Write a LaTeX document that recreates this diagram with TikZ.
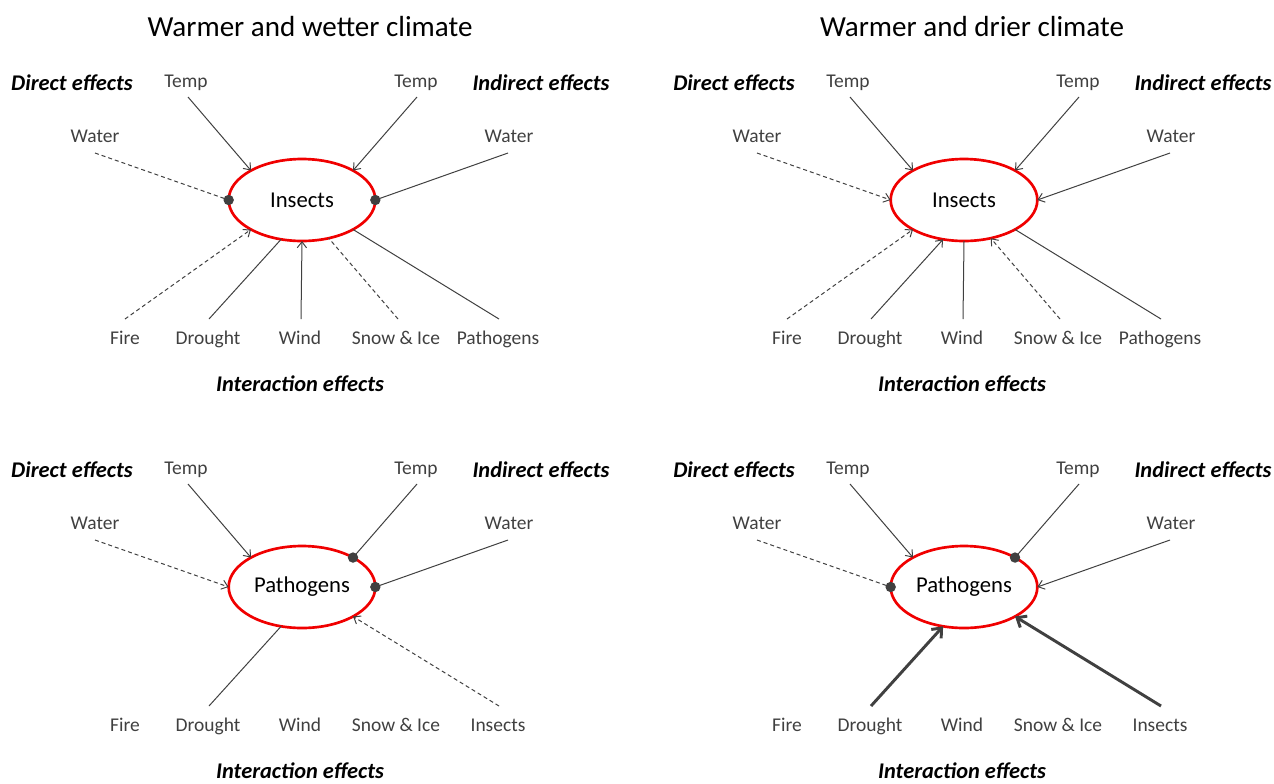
\documentclass[tikz,border=0pt]{standalone}
\usepackage{fontspec}
\setmainfont{Carlito}
\usetikzlibrary{arrows.meta,shapes.geometric,calc}
\definecolor{ln}{HTML}{404040}
\definecolor{lb}{HTML}{404040}
\definecolor{ered}{HTML}{F00000}
\tikzset{
 lbl/.style={text=lb, font=\fontsize{14.6}{16}\selectfont, inner sep=0, text height=11.5pt, text depth=1.5pt},
 head/.style={font=\fontsize{16.8}{19}\selectfont\bfseries\itshape, inner sep=0},
 ttl/.style={font=\fontsize{21.8}{25}\selectfont, inner sep=0},
 hub/.style={ellipse, draw=ered, line width=2pt, minimum width=110pt, minimum height=61.5pt, inner sep=0, outer sep=0, font=\fontsize{17}{20}\selectfont},
 con/.style={draw=ln, line width=0.75pt},
 dsh/.style={con, dash pattern=on 3pt off 2.25pt},
 arr/.style={-{Straight Barb[length=4.5pt,width=7pt]}},
 thk/.style={draw=ln, line width=2.2pt, -{Straight Barb[length=6pt,width=10pt]}},
 dotc/.style={circle, fill=ln, inner sep=0, minimum size=7.8pt},
}
\newcommand\panelbase[2]{%
  \node[head] (de) at (72,83) {Direct effects};
  \node[lbl] (tl) at (186,81) {Temp};
  \node[lbl] (tr) at (416,81) {Temp};
  \node[head] (ie) at (541,83) {Indirect effects};
  \node[lbl] (wl) at (95,136) {Water};
  \node[lbl] (wr) at (509,136) {Water};
  \node[hub] (e) at (302,200) {#1};
  \node[lbl] (fi) at (125,338) {Fire};
  \node[lbl] (dr) at (208,338) {Drought};
  \node[lbl] (wi) at (300,338) {Wind};
  \node[lbl] (sn) at (396,338) {Snow \& Ice};
  \node[lbl] (p5) at (498,338) {#2};
  \node[head] (ia) at (300,384) {Interaction effects};
  \coordinate (tl0) at ($(tl)+(2,16)$);
  \coordinate (tr0) at ($(tr)+(1,16)$);
  \coordinate (wl0) at ($(wl)+(0,17)$);
  \coordinate (wr0) at ($(wr)+(-1,17)$);
  \coordinate (fi0) at ($(fi)+(0,-19)$);
  \coordinate (dr0) at ($(dr)+(1,-19)$);
  \coordinate (wi0) at ($(wi)+(1,-19)$);
  \coordinate (sn0) at ($(sn)+(2,-19)$);
  \coordinate (p50) at ($(p5)+(1,-19)$);
}
\begin{document}
\begin{tikzpicture}[x=0.75pt,y=-0.75pt]
\useasboundingbox (0,0) rectangle (1274,783);
\node[ttl] (t1) at (310,27) {Warmer and wetter climate};
\node[ttl] (t2) at (972,27) {Warmer and drier climate};

% top-left
\begin{scope}[name prefix=a-]
  \panelbase{Insects}{Pathogens}
  \draw[con,arr] (tl0) -- (e.150);
  \draw[con,arr] (tr0) -- (e.30);
  \draw[dsh] (wl0) -- (e.180);
  \node[dotc] (d1) at (e.180) {};
  \draw[con] (wr0) -- (e.0);
  \node[dotc] (d2) at (e.0) {};
  \draw[dsh,arr] (fi0) -- (e.210);
  \draw[con] (dr0) -- (e.242);
  \draw[con,arr] (wi0) -- (e.270);
  \draw[dsh] (sn0) -- (e.305);
  \draw[con] (p50) -- (e.330);
\end{scope}

% top-right
\begin{scope}[shift={(662,0)},name prefix=b-]
  \panelbase{Insects}{Pathogens}
  \draw[con,arr] (tl0) -- (e.150);
  \draw[con,arr] (tr0) -- (e.30);
  \draw[dsh,arr] (wl0) -- (e.180);
  \draw[con,arr] (wr0) -- (e.0);
  \draw[dsh,arr] (fi0) -- (e.210);
  \draw[con,arr] (dr0) -- (e.242);
  \draw[con] (wi0) -- (e.270);
  \draw[dsh,arr] (sn0) -- (e.305);
  \draw[con] (p50) -- (e.330);
\end{scope}

% bottom-left
\begin{scope}[shift={(0,387)},name prefix=c-]
  \panelbase{Pathogens}{Insects}
  \draw[con,arr] (tl0) -- (e.150);
  \draw[con] (tr0) -- (e.30);
  \node[dotc] (d1) at (e.30) {};
  \draw[dsh,arr] (wl0) -- (e.180);
  \draw[con] (wr0) -- (e.0);
  \node[dotc] (d2) at (e.0) {};
  \draw[con] (dr0) -- (e.242);
  \draw[dsh,arr] (p50) -- (e.330);
\end{scope}

% bottom-right
\begin{scope}[shift={(662,387)},name prefix=d-]
  \panelbase{Pathogens}{Insects}
  \draw[con,arr] (tl0) -- (e.150);
  \draw[con] (tr0) -- (e.30);
  \node[dotc] (d1) at (e.30) {};
  \draw[dsh] (wl0) -- (e.180);
  \node[dotc] (d2) at (e.180) {};
  \draw[con,arr] (wr0) -- (e.0);
  \draw[thk] (dr0) -- (e.242);
  \draw[thk] (p50) -- (e.330);
\end{scope}
\end{tikzpicture}
\end{document}
